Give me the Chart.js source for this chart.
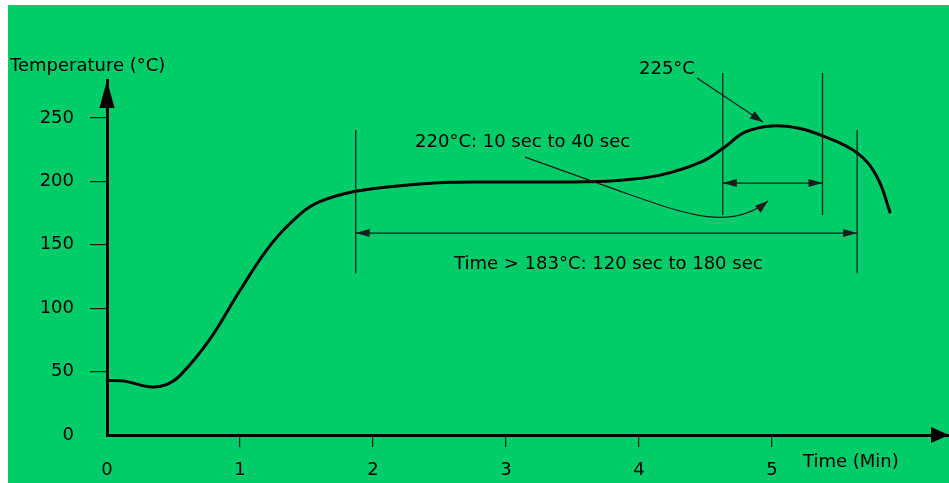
<!DOCTYPE html>
<html lang="en">
<head>
  <meta charset="UTF-8">
  <title>Reflow profile</title>
  <script src="https://cdn.jsdelivr.net/npm/chart.js"></script>
  <style>
    body { margin: 0; background: #fff; }
    canvas { display: block; }
  </style>
</head>
<body>
<canvas id="myChart" width="949" height="483"></canvas>
<script>
// reflow profile
const timeMin = [0, 0.13, 0.32, 0.44, 0.55, 0.77, 1.0, 1.23, 1.45, 1.6, 1.86, 2.2, 2.58, 3.0, 3.33, 3.6, 3.86, 4.16, 4.46, 4.63, 4.8, 5.0, 5.2, 5.38, 5.64, 5.79, 5.89];
const tempC   = [43, 42.5, 38, 39.5, 47, 75, 114, 150, 174, 184, 192, 196.5, 199.3, 199.5, 199.5, 199.7, 201, 205, 215, 226, 239, 243.8, 242, 236, 222.5, 203.5, 175];
const xTicks = [0, 1, 2, 3, 4, 5];
const yTicks = [0, 50, 100, 150, 200, 250];

const FONT = '18px "DejaVu Sans"';
const GREEN = '#00cc6a';
const INK = '#1c1c1c';

function arrowHead(ctx, fx, fy, tx, ty, len, hw) {
  const a = Math.atan2(ty - fy, tx - fx);
  ctx.beginPath();
  ctx.moveTo(tx, ty);
  ctx.lineTo(tx - len * Math.cos(a) + hw * Math.sin(a), ty - len * Math.sin(a) - hw * Math.cos(a));
  ctx.lineTo(tx - len * Math.cos(a) - hw * Math.sin(a), ty - len * Math.sin(a) + hw * Math.cos(a));
  ctx.closePath();
  ctx.fill();
}

const decor = {
  id: 'decor',
  beforeDraw(chart) {
    const ctx = chart.ctx;
    ctx.save();
    ctx.fillStyle = '#fff';
    ctx.fillRect(0, 0, chart.width, chart.height);
    ctx.fillStyle = GREEN;
    ctx.fillRect(8, 5, chart.width - 8, chart.height - 5);
    ctx.restore();
  },
  afterDraw(chart) {
    const ctx = chart.ctx;
    const xs = chart.scales.x, ys = chart.scales.y;
    const P = (t, T) => [xs.getPixelForValue(t), ys.getPixelForValue(T)];
    const area = chart.chartArea;
    ctx.save();

    // axis arrow heads
    ctx.fillStyle = '#000';
    arrowHead(ctx, area.left, area.top + 40, area.left, area.top, 28, 7.5);
    arrowHead(ctx, area.right - 40, area.bottom, area.right, area.bottom, 18, 8);

    ctx.strokeStyle = INK;
    ctx.fillStyle = INK;
    ctx.lineWidth = 1.2;

    // vertical markers
    const markers = [[1.87, 127.5, 240.5], [4.63, 173.5, 285.5], [5.38, 173.5, 285.5], [5.64, 127.5, 240.5]];
    markers.forEach(m => {
      const a = P(m[0], m[1]), b = P(m[0], m[2]);
      ctx.beginPath(); ctx.moveTo(a[0], a[1]); ctx.lineTo(b[0], b[1]); ctx.stroke();
    });

    // double arrows
    [[1.87, 5.64, 159.3], [4.63, 5.38, 198.7]].forEach(d => {
      const a = P(d[0], d[2]), b = P(d[1], d[2]);
      ctx.beginPath(); ctx.moveTo(a[0], a[1]); ctx.lineTo(b[0], b[1]); ctx.stroke();
      arrowHead(ctx, b[0], b[1], a[0], a[1], 14, 4);
      arrowHead(ctx, a[0], a[1], b[0], b[1], 14, 4);
    });

    // 225 leader
    let s = P(4.436, 281.5), e = P(4.932, 246.8);
    ctx.beginPath(); ctx.moveTo(s[0], s[1]); ctx.lineTo(e[0], e[1]); ctx.stroke();
    arrowHead(ctx, s[0], s[1], e[0], e[1], 13, 4.5);

    // 220 leader: straight run, then a smooth hook up to the peak zone
    const p0 = P(3.143, 219.2), p1 = P(3.857, 192.4), c1 = P(4.346, 174.3), c2 = P(4.684, 160.2), p2 = P(4.97, 184.5);
    ctx.beginPath();
    ctx.moveTo(p0[0], p0[1]);
    ctx.lineTo(p1[0], p1[1]);
    ctx.bezierCurveTo(c1[0], c1[1], c2[0], c2[1], p2[0], p2[1]);
    ctx.stroke();
    arrowHead(ctx, c2[0], c2[1], p2[0], p2[1], 13, 4.5);

    // texts
    ctx.fillStyle = '#000';
    ctx.font = FONT;
    ctx.textAlign = 'left';
    ctx.textBaseline = 'middle';
    let q = P(4.0, 288.6); ctx.fillText('225°C', q[0], q[1]);
    q = P(2.316, 231.1); ctx.fillText('220°C: 10 sec to 40 sec', q[0], q[1]);
    q = P(2.609, 134.9); ctx.fillText('Time > 183°C: 120 sec to 180 sec', q[0], q[1]);
    ctx.fillText('Temperature (°C)', 10, 66);
    ctx.fillText('Time (Min)', 803, 462);
    ctx.restore();
  }
};

const ctx = document.getElementById('myChart').getContext('2d');
const myChart = new Chart(ctx, {
  type: 'line',
  data: {
    datasets: [{
      data: timeMin.map((t, i) => ({ x: t, y: tempC[i] })),
      borderColor: '#000',
      borderWidth: 3,
      pointRadius: 0,
      fill: false,
      tension: 0.4
    }]
  },
  options: {
    responsive: false,
    devicePixelRatio: 1,
    animation: false,
    layout: { padding: { top: 80, left: 0, right: 0, bottom: 0 } },
    plugins: { legend: { display: false }, tooltip: { enabled: false } },
    scales: {
      x: {
        type: 'linear',
        min: 0,
        max: 6.331,
        afterBuildTicks: s => { s.ticks = xTicks.map(v => ({ value: v })); },
        afterFit: s => { s.height = 48; },
        border: { color: '#000', width: 3 },
        grid: {
          drawOnChartArea: false,
          tickLength: 12,
          tickColor: c => (c.tick && c.tick.value === 0) ? 'rgba(0,0,0,0)' : INK,
          lineWidth: 1.2
        },
        ticks: { color: '#000', font: { family: 'DejaVu Sans', size: 18 }, padding: 13, maxRotation: 0 }
      },
      y: {
        min: 0,
        max: 280,
        afterBuildTicks: s => { s.ticks = yTicks.map(v => ({ value: v })); },
        afterFit: s => { s.width = 107; },
        border: { color: '#000', width: 3 },
        grid: {
          drawOnChartArea: false,
          tickLength: 17,
          tickColor: c => (c.tick && c.tick.value === 0) ? 'rgba(0,0,0,0)' : INK,
          lineWidth: 1.2
        },
        ticks: { color: '#000', font: { family: 'DejaVu Sans', size: 18 }, padding: 16 }
      }
    }
  },
  plugins: [decor]
});
</script>
</body>
</html>
